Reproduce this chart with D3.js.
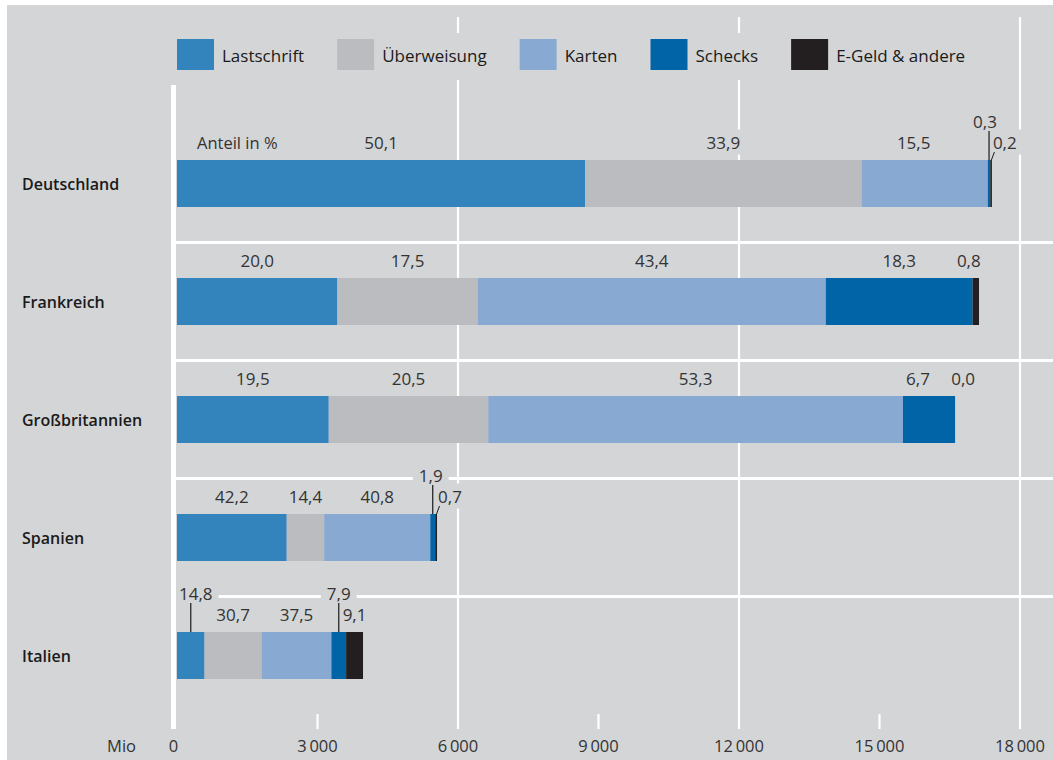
<!DOCTYPE html>
<html>
<head>
<meta charset="utf-8">
<script src="https://cdn.jsdelivr.net/npm/d3@7"></script>
<style>
  html, body { margin: 0; padding: 0; background: #fff; }
  svg { display: block; }
</style>
</head>
<body>
<div id="chart"></div>
<script>
var width = 1053;
var height = 760;
var fontFamily = "Open Sans, Noto Sans, sans-serif";
var bg = "#d4d5d7";
var textColor = "#333333";

// data (Mio Transaktionen)
var countries = ["Deutschland", "Frankreich", "Großbritannien", "Spanien", "Italien"];
var seriesNames = ["Lastschrift", "Überweisung", "Karten", "Schecks", "E-Geld & andere"];
var seriesColors = ["#3383bd", "#bbbcc0", "#88aad2", "#0064a6", "#231f20"];
var lastschrift = [8717, 3425, 3240, 2343, 588];
var ueberweisung = [5899, 2997, 3406, 800, 1219];
var karten = [2697, 7432, 8855, 2265, 1490];
var schecks = [52, 3134, 1113, 105, 314];
var egeld = [35, 137, 0, 39, 361];
var shares = [
  ["50,1", "33,9", "15,5", "0,3", "0,2"],
  ["20,0", "17,5", "43,4", "18,3", "0,8"],
  ["19,5", "20,5", "53,3", "6,7", "0,0"],
  ["42,2", "14,4", "40,8", "1,9", "0,7"],
  ["14,8", "30,7", "37,5", "7,9", "9,1"]
];
var xTicks = [0, 3000, 6000, 9000, 12000, 15000, 18000];
var xMajor = [0, 6000, 12000, 18000];

// label placement: "up" = raised with vertical leader, "side" = right of bar with short leader
var labelMode = {
  "Deutschland|Schecks": {mode: "up", dx: -4},
  "Deutschland|E-Geld & andere": {mode: "side"},
  "Deutschland|Karten": {dx: -11},
  "Frankreich|E-Geld & andere": {dx: -7},
  "Großbritannien|Schecks": {dx: -11},
  "Großbritannien|E-Geld & andere": {dx: 8},
  "Spanien|Schecks": {mode: "up", dx: -2},
  "Spanien|E-Geld & andere": {mode: "side"},
  "Italien|Lastschrift": {mode: "up", dx: 5},
  "Italien|Schecks": {mode: "up", dx: 0}
};

var table = countries.map(function(c, i) {
  return {
    country: c,
    "Lastschrift": lastschrift[i],
    "Überweisung": ueberweisung[i],
    "Karten": karten[i],
    "Schecks": schecks[i],
    "E-Geld & andere": egeld[i]
  };
});

var stack = d3.stack().keys(seriesNames)(table);

var x = d3.scaleLinear().domain([0, 18000]).range([177, 1020]);
var y = d3.scaleBand().domain(countries).range([124.5, 714.5]).paddingInner(0).paddingOuter(0);
var barH = 47;

var svg = d3.select("#chart").append("svg")
  .attr("width", width)
  .attr("height", height);

svg.append("rect")
  .attr("x", 7).attr("y", 5)
  .attr("width", width - 7).attr("height", height - 5)
  .attr("fill", bg);

// grid
var grid = svg.append("g");
grid.selectAll("line.major")
  .data(xMajor.filter(function(d) { return d > 0; }))
  .enter().append("line")
  .attr("x1", function(d) { return x(d); })
  .attr("x2", function(d) { return x(d); })
  .attr("y1", 17).attr("y2", 729)
  .attr("stroke", "#fff").attr("stroke-width", 2.2);
grid.selectAll("line.minor")
  .data(xTicks.filter(function(d) { return xMajor.indexOf(d) < 0; }))
  .enter().append("line")
  .attr("x1", function(d) { return x(d); })
  .attr("x2", function(d) { return x(d); })
  .attr("y1", 714).attr("y2", 729)
  .attr("stroke", "#fff").attr("stroke-width", 2.2);
// row separators
grid.selectAll("rect.sep")
  .data(countries.slice(1))
  .enter().append("rect")
  .attr("x", x(0) - 6)
  .attr("y", function(d) { return y(d) - 1.5; })
  .attr("width", width - x(0) + 6)
  .attr("height", 3)
  .attr("fill", "#fff");

// legend
var legend = svg.append("g");
legend.append("rect")
  .attr("x", 168).attr("y", 33).attr("width", 830).attr("height", 47)
  .attr("fill", bg);
var lx = 177;
seriesNames.forEach(function(s, i) {
  legend.append("rect")
    .attr("x", lx).attr("y", 39)
    .attr("width", 37).attr("height", 31)
    .attr("fill", seriesColors[i]);
  var t = legend.append("text")
    .attr("x", lx + 45).attr("y", 55)
    .attr("dominant-baseline", "central")
    .attr("font-family", fontFamily)
    .attr("font-size", "17px")
    .attr("fill", "#1a1a1a")
    .text(s);
  lx += 45 + t.node().getComputedTextLength() + 33;
});

// bars
var bars = svg.append("g");
stack.forEach(function(layer, si) {
  bars.selectAll(null)
    .data(layer)
    .enter().append("rect")
    .attr("x", function(d) { return x(d[0]); })
    .attr("y", function(d) { return y(d.data.country) + y.bandwidth() / 2 - barH / 2; })
    .attr("width", function(d) { return Math.max(0, x(d[1]) - x(d[0])); })
    .attr("height", barH)
    .attr("fill", seriesColors[si]);
});

// country labels
svg.append("g").selectAll("text")
  .data(countries)
  .enter().append("text")
  .attr("x", 22)
  .attr("y", function(d) { return y(d) + y.bandwidth() / 2; })
  .attr("dominant-baseline", "central")
  .attr("font-family", fontFamily)
  .attr("font-size", "16px")
  .attr("font-weight", 600)
  .attr("fill", "#1a1a1a")
  .text(function(d) { return d; });

// percent labels
var labels = svg.append("g");
var leaders = svg.append("g");
function addLabel(tx, ty, anchor, str) {
  var g = labels.append("g");
  var bgRect = g.append("rect").attr("fill", bg);
  var t = g.append("text")
    .attr("x", tx).attr("y", ty)
    .attr("text-anchor", anchor)
    .attr("dominant-baseline", "central")
    .attr("font-family", fontFamily)
    .attr("font-size", "17px")
    .attr("fill", textColor)
    .text(str);
  var bb = t.node().getBBox();
  bgRect.attr("x", bb.x - 6).attr("y", bb.y - 1)
    .attr("width", bb.width + 12).attr("height", bb.height + 2);
}

countries.forEach(function(c, ci) {
  var barTop = y(c) + y.bandwidth() / 2 - barH / 2;
  seriesNames.forEach(function(s, si) {
    var seg = stack[si][ci];
    var x0 = x(seg[0]), x1 = x(seg[1]);
    var mid = (x0 + x1) / 2;
    var opt = labelMode[c + "|" + s] || {};
    var dx = opt.dx || 0;
    if (opt.mode === "up") {
      leaders.append("line")
        .attr("x1", mid).attr("x2", mid)
        .attr("y1", barTop - 29).attr("y2", barTop)
        .attr("stroke", "#1a1a1a").attr("stroke-width", 1.2);
      addLabel(mid + dx, barTop - 39, "middle", shares[ci][si]);
    } else if (opt.mode === "side") {
      leaders.append("line")
        .attr("x1", x1 + 2.5).attr("y1", barTop - 8)
        .attr("x2", x1 - 0.5).attr("y2", barTop)
        .attr("stroke", "#1a1a1a").attr("stroke-width", 1);
      addLabel(x1 + 1, barTop - 18, "start", shares[ci][si]);
    } else {
      addLabel(mid + dx, barTop - 18, "middle", shares[ci][si]);
    }
  });
});

// zero line on top of label backgrounds
svg.append("rect")
  .attr("x", x(0) - 6).attr("y", 85)
  .attr("width", 5).attr("height", 729 - 85)
  .attr("fill", "#fff");

// "Anteil in %"
var firstTop = y(countries[0]) + y.bandwidth() / 2 - barH / 2;
svg.append("text")
  .attr("x", 197).attr("y", firstTop - 18)
  .attr("dominant-baseline", "central")
  .attr("font-family", fontFamily)
  .attr("font-size", "16.5px")
  .attr("fill", textColor)
  .text("Anteil in %");

// axis labels
var fmt = function(d) {
  var s = String(d);
  return s.length > 3 ? s.slice(0, s.length - 3) + "\u2009" + s.slice(-3) : s;
};
svg.append("g").selectAll("text")
  .data(xTicks)
  .enter().append("text")
  .attr("x", function(d) { return d === 0 ? x(d) - 3.5 : x(d); })
  .attr("y", 745)
  .attr("text-anchor", "middle")
  .attr("dominant-baseline", "central")
  .attr("font-family", fontFamily)
  .attr("font-size", "16.5px")
  .attr("fill", textColor)
  .text(fmt);
svg.append("text")
  .attr("x", 136).attr("y", 745)
  .attr("text-anchor", "end")
  .attr("dominant-baseline", "central")
  .attr("font-family", fontFamily)
  .attr("font-size", "16.5px")
  .attr("fill", textColor)
  .text("Mio");
</script>
</body>
</html>
